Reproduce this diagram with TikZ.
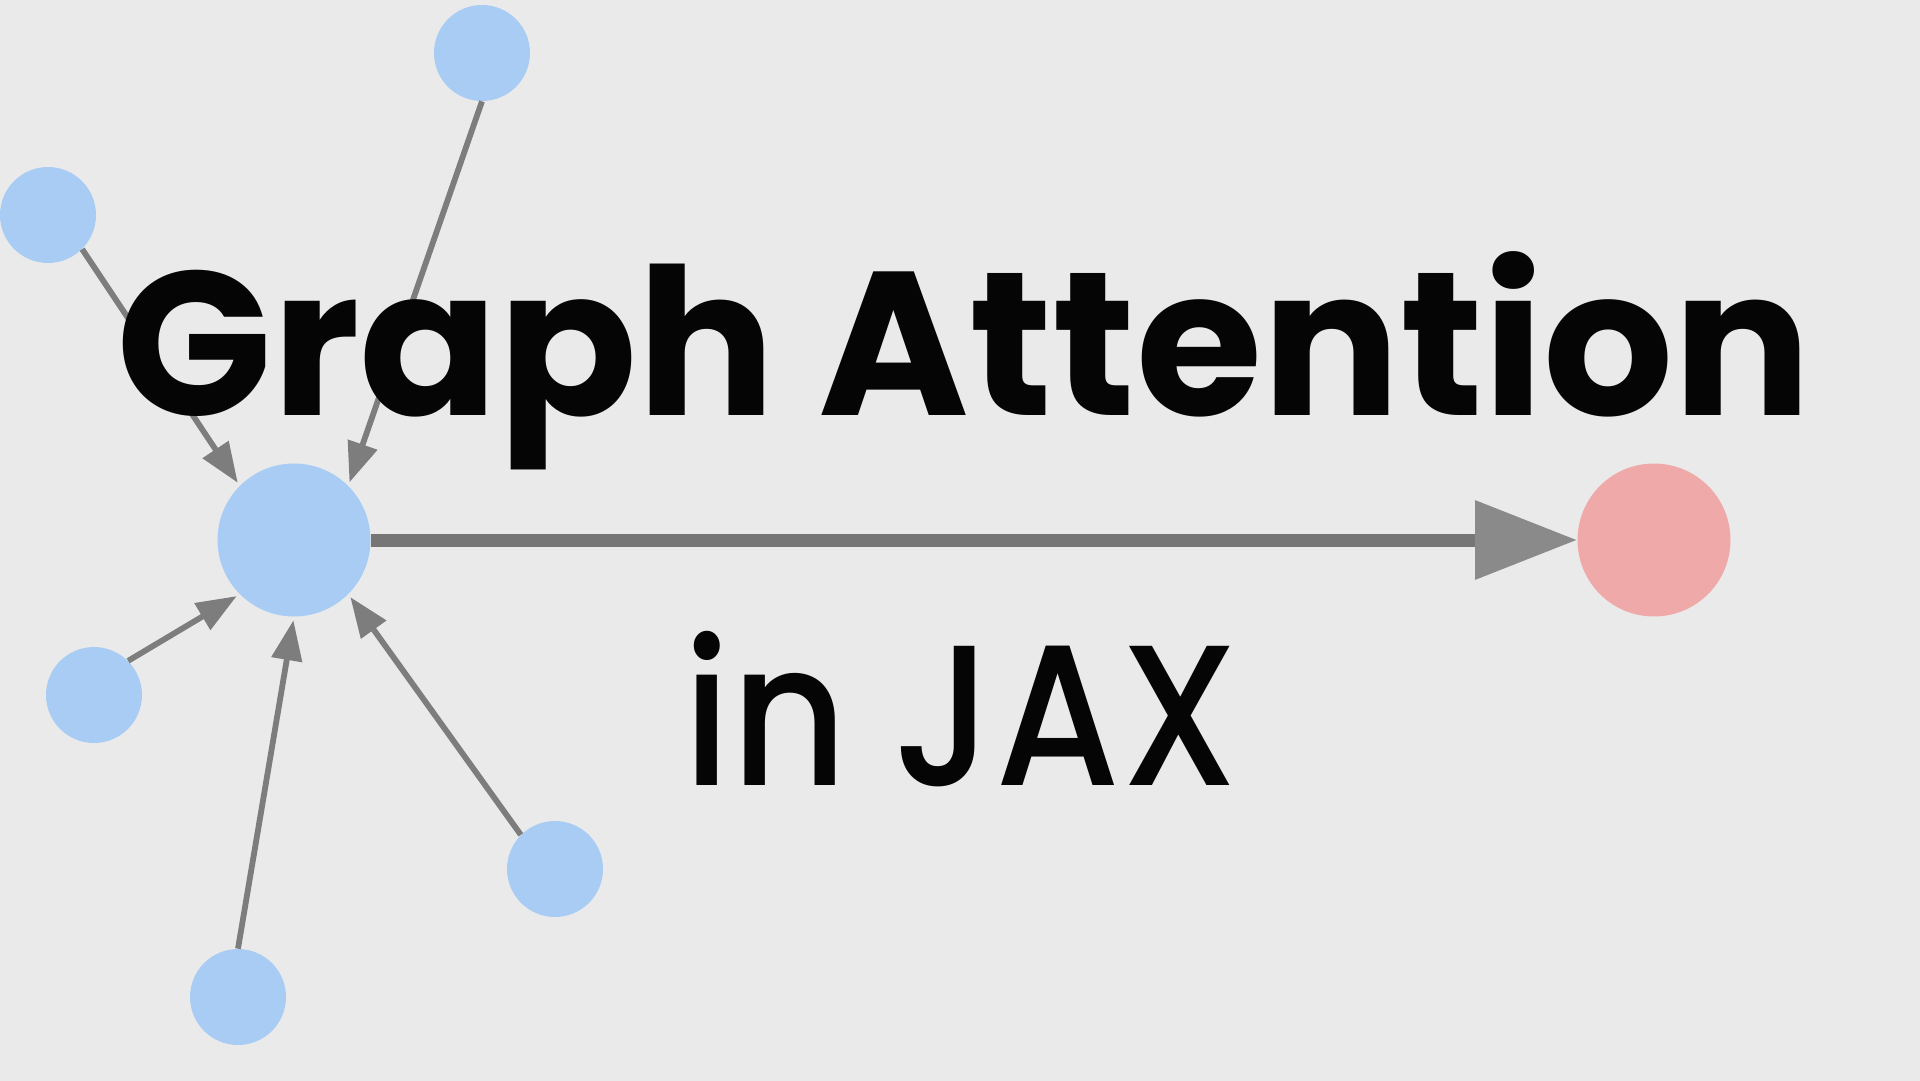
\documentclass[tikz,border=0pt]{standalone}
\usepackage{fontspec}
\setmainfont{Poppins}
\IfFontExistsTF{Poppins Medium}{\newfontfamily\subfont{Poppins Medium}}{\newfontfamily\subfont{Poppins}}
\usetikzlibrary{arrows.meta}
\definecolor{bgc}{RGB}{234,234,234}
\definecolor{nblue}{RGB}{169,204,245}
\definecolor{nred}{RGB}{239,169,168}
\definecolor{edgec}{RGB}{125,125,125}
\definecolor{bigline}{RGB}{118,118,118}
\definecolor{bighead}{RGB}{138,138,138}
\definecolor{txt}{RGB}{5,5,5}
\tikzset{
  small/.style={circle, fill=nblue, draw=none, minimum size=1.92cm, inner sep=0pt},
  big/.style={circle, fill=#1, draw=none, minimum size=3.06cm, inner sep=0pt},
  edge/.style={draw=edgec, line width=3.3pt, shorten >=2pt, -{Triangle[length=0.8cm, width=0.6cm]}},
  mainarrow/.style={draw=bigline, line width=0.26cm, -{Triangle[length=2.04cm, width=1.52cm, color=bighead, fill=bighead]}},
}
\begin{document}
\begin{tikzpicture}[x=0.02cm, y=-0.02cm]
\path[use as bounding box, fill=bgc] (0,0) rectangle (1920,1081);
\node[big=nblue] (C) at (294,540) {};
\node[big=nred] (R) at (1654,540) {};
\node[small] (T) at (482,53) {};
\node[small] (L1) at (48,215) {};
\node[small] (L2) at (94,695) {};
\node[small] (B) at (238,997) {};
\node[small] (BR) at (555,869) {};
\draw[edge] (T.270) -- (C.45);
\draw[edge] (L1.-45) -- (C.135);
\draw[edge] (L2.45) -- (C.225);
\draw[edge] (B.90) -- (C.270);
\draw[edge] (BR.135) -- (C.-45);
\draw[mainarrow] (C) -- (R);
\node[anchor=base, inner sep=0pt, text=txt, font=\bfseries\fontsize{116.5}{116.5}\selectfont] (title) at (964,415) {Graph Attention};
\node[anchor=base, inner sep=0pt, text=txt, font=\subfont\fontsize{114}{114}\selectfont] (sub) at (961,785) {\scalebox{0.895}[1]{in JAX}};
\end{tikzpicture}
\end{document}
